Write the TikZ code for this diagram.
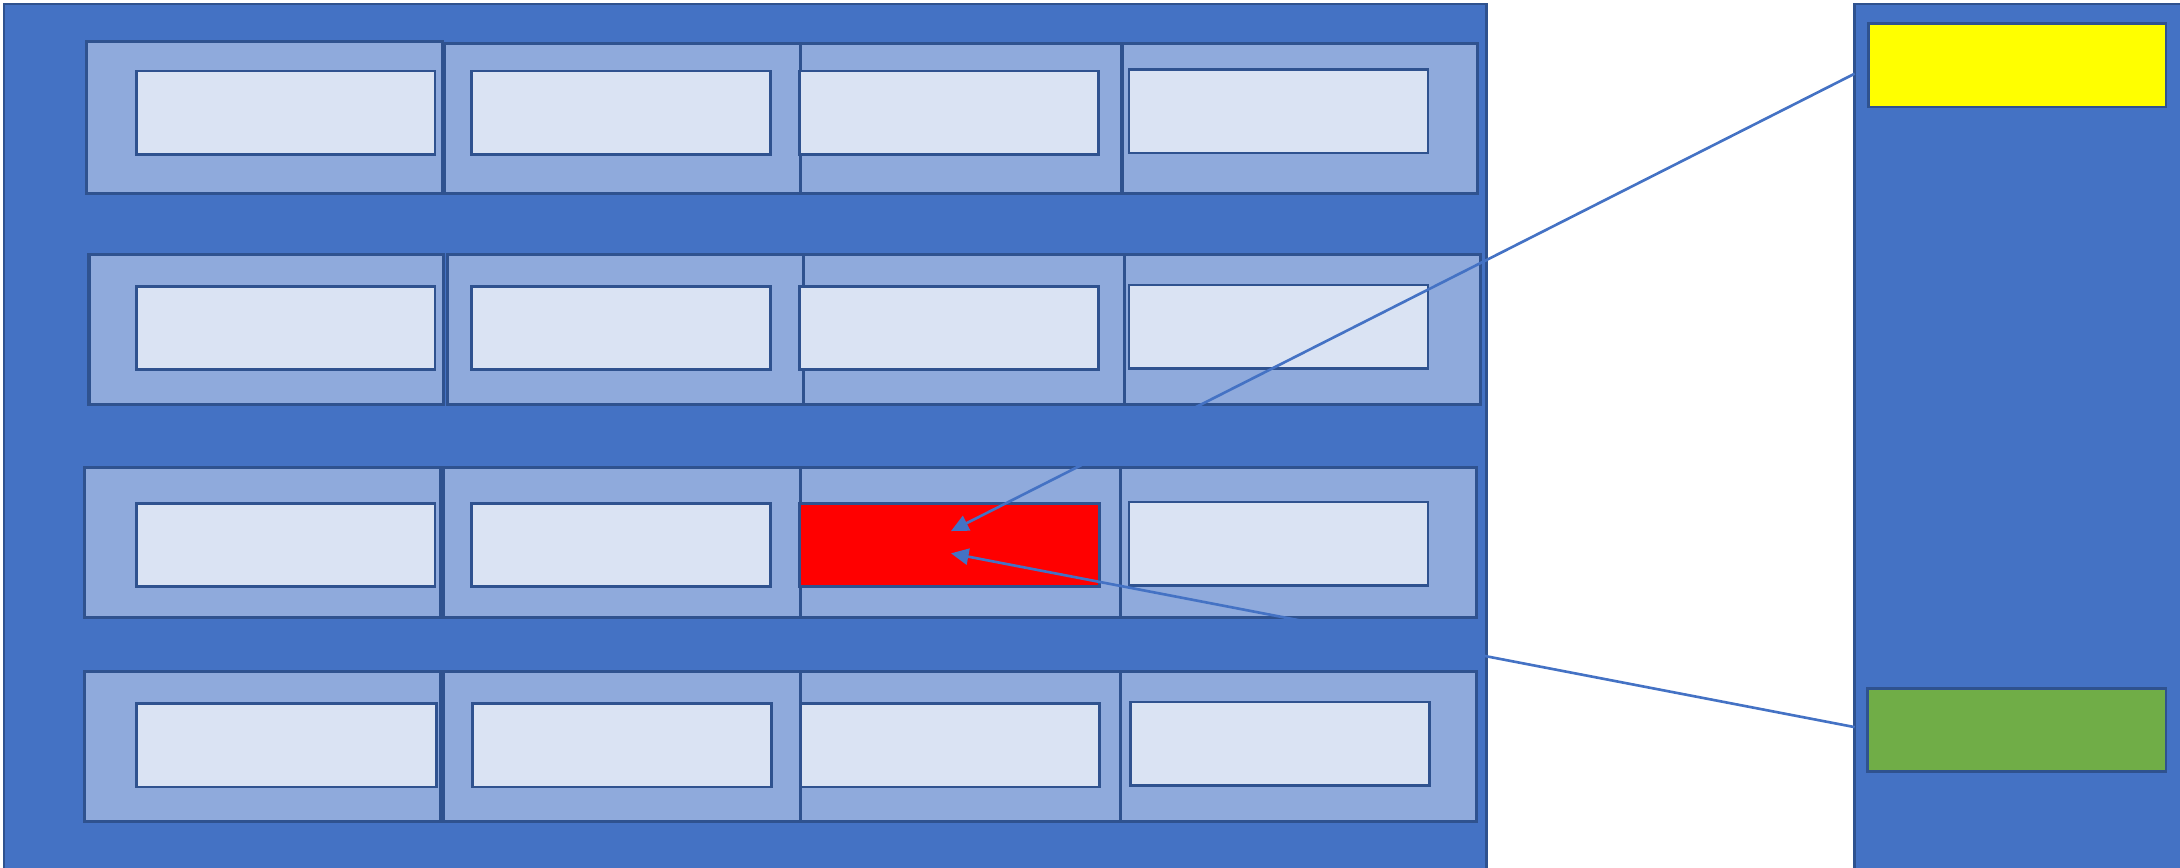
\documentclass[tikz,border=0pt]{standalone}
\usetikzlibrary{fit,arrows.meta}
\definecolor{dark}{HTML}{4472C4}
\definecolor{edge}{HTML}{2F528F}
\definecolor{mid}{HTML}{8FAADC}
\definecolor{light}{HTML}{DAE3F3}
\definecolor{grn}{HTML}{70AD47}
\definecolor{yel}{RGB}{255,255,0}
\definecolor{rd}{RGB}{255,0,0}
\tikzset{
 box/.style={draw=edge, line width=0.75pt, inner sep=0pt, outer sep=0pt},
 outerbox/.style={box, fill=dark},
 midbox/.style={box, fill=mid, line width=0.9pt},
 cell/.style={box, fill=light},
 redcell/.style={box, fill=rd},
 yelcell/.style={box, fill=yel},
 grncell/.style={box, fill=grn},
 conn/.style={draw=dark, line width=0.75pt, -{Triangle[length=5pt,width=4.6pt]}},
}
\newcommand{\bx}[6]{\node[#2, fit={(#3,#4)(#5,#6)}] (#1) {};}
\begin{document}
\begin{tikzpicture}[x=0.013903cm, y=-0.013903cm]
\useasboundingbox (0,0) rectangle (1568,624);
% outer panels
\bx{left}{outerbox}{3}{3}{1069}{640}
\bx{right}{outerbox}{1334}{3}{1590}{640}
% row 1
\bx{m11}{midbox}{62}{30}{318}{139}
\bx{m12}{midbox}{320}{31}{576}{139}
\bx{m13}{midbox}{576}{31}{832}{139}
\bx{m14}{midbox}{807}{31}{1063}{139}
\bx{c11}{cell}{98}{51}{313}{111}
\bx{c12}{cell}{339}{51}{554}{111}
\bx{c13}{cell}{575}{51}{790}{111}
\bx{c14}{cell}{812}{50}{1027}{110}
% row 2
\bx{m21}{midbox}{64}{183}{319}{291}
\bx{m22}{midbox}{322}{183}{578}{291}
\bx{m23}{midbox}{578}{183}{834}{291}
\bx{m24}{midbox}{809}{183}{1065}{291}
\bx{c21}{cell}{98}{206}{313}{266}
\bx{c22}{cell}{339}{206}{554}{266}
\bx{c23}{cell}{575}{206}{790}{266}
\bx{c24}{cell}{812}{205}{1027}{265}
% row 3
\bx{m31}{midbox}{61}{336}{317}{444}
\bx{m32}{midbox}{319}{336}{576}{444}
\bx{m33}{midbox}{576}{336}{832}{444}
\bx{m34}{midbox}{806}{336}{1062}{444}
\bx{c31}{cell}{98}{362}{313}{422}
\bx{c32}{cell}{339}{362}{554}{422}
\bx{c33}{redcell}{575}{362}{791}{422}
\bx{c34}{cell}{812}{361}{1027}{421}
% row 4
\bx{m41}{midbox}{61}{483}{317}{591}
\bx{m42}{midbox}{319}{483}{576}{591}
\bx{m43}{midbox}{576}{483}{832}{591}
\bx{m44}{midbox}{806}{483}{1062}{591}
\bx{c41}{cell}{98}{506}{314}{566}
\bx{c42}{cell}{340}{506}{555}{566}
\bx{c43}{cell}{576}{506}{791}{566}
\bx{c44}{cell}{813}{505}{1028}{565}
% right panel cells
\bx{yc}{yelcell}{1344}{17}{1558}{77}
\bx{gr}{grncell}{1343}{495}{1558}{555}
% connectors
\coordinate (s1) at (1334,53);
\coordinate (t1) at (684,382);
\coordinate (s2) at (1334,523);
\coordinate (t2) at (684,398);
\draw[conn] (s1) -- (t1);
\draw[conn] (s2) -- (t2);
\end{tikzpicture}
\end{document}
